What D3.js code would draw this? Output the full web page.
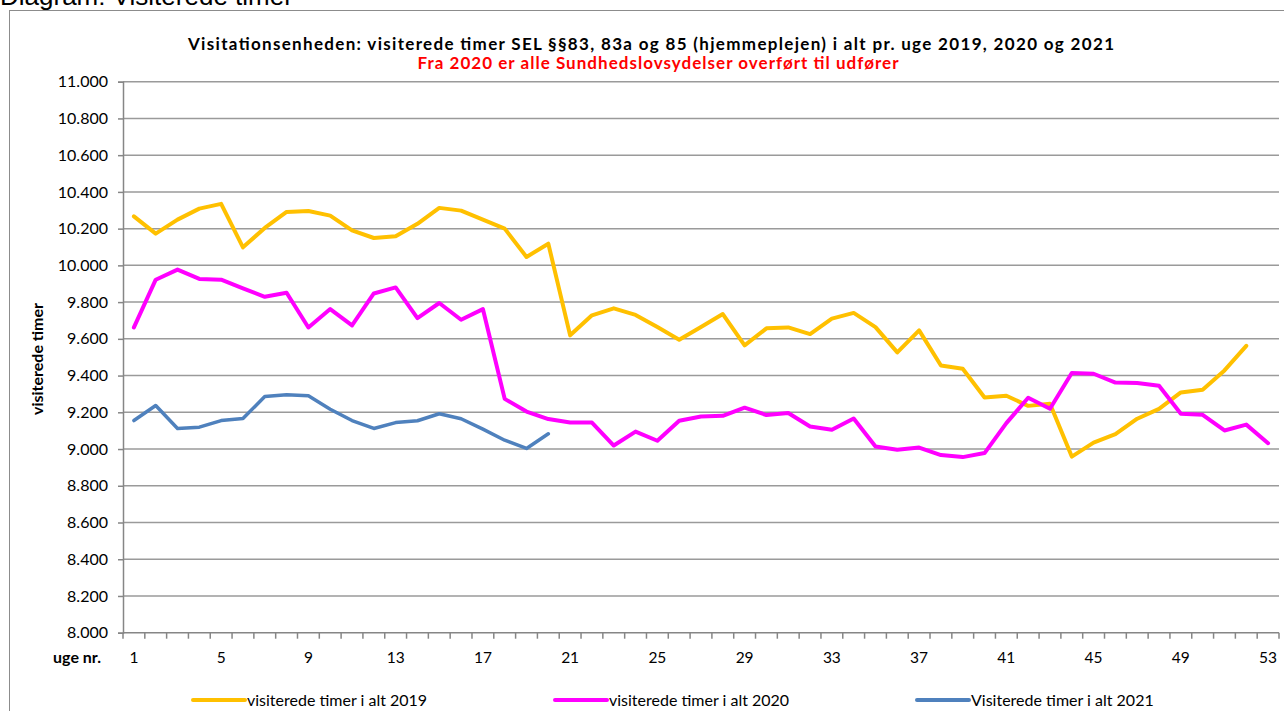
<!DOCTYPE html>
<html>
<head>
<meta charset="utf-8">
<script src="https://cdn.jsdelivr.net/npm/d3@7"></script>
<style>
  body { margin: 0; background: #fff; }
  svg { display: block; }
</style>
</head>
<body>
<div id="chart"></div>
<script>
const weeks = [1,2,3,4,5,6,7,8,9,10,11,12,13,14,15,16,17,18,19,20,21,22,23,24,25,26,27,
  28,29,30,31,32,33,34,35,36,37,38,39,40,41,42,43,44,45,46,47,48,49,50,51,52,53];
const weekLabels = [1,5,9,13,17,21,25,29,33,37,41,45,49,53];

const values2019 = [10267,10173,10249,10309,10335,10098,10204,10291,10296,10271,
  10191,10149,10158,10226,10313,10298,10249,10200,10046,10118,
  9619,9728,9766,9730,9664,9595,9664,9735,9564,9657,
  9662,9626,9710,9741,9664,9526,9646,9455,9437,9281,
  9290,9235,9246,8959,9035,9081,9165,9219,9308,9323,9428,9562];
const values2020 = [9662,9922,9977,9926,9922,9875,9829,9851,9662,9762,
  9673,9847,9880,9713,9795,9704,9762,9273,9204,9163,
  9144,9144,9019,9095,9045,9154,9177,9181,9225,9185,
  9196,9123,9105,9166,9014,8996,9008,8967,8956,8978,
  9141,9279,9219,9414,9410,9362,9359,9344,9192,9186,9101,9133,9032];
const values2021 = [9155,9237,9112,9119,9155,9166,9286,9295,9290,9217,
  9155,9112,9144,9154,9192,9165,9108,9048,9003,9083];

const yTicks = [8000,8200,8400,8600,8800,9000,9200,9400,9600,9800,10000,10200,10400,10600,10800,11000];

const seriesNames = ['visiterede timer i alt 2019', 'visiterede timer i alt 2020', 'Visiterede timer i alt 2021'];
const seriesColors = ['#FFC000', '#FF00FF', '#4F81BD'];

const width = 1284, height = 711;
const plot = { left: 123, right: 1279, top: 81.7, bottom: 632.7 };

const svg = d3.select('#chart').append('svg')
  .attr('width', width)
  .attr('height', height);

// outer frame (partly cut off)
svg.append('rect')
  .attr('x', 9.5).attr('y', 10.5)
  .attr('width', 1400).attr('height', 800)
  .attr('fill', 'none')
  .attr('stroke', '#8c8c8c')
  .attr('stroke-width', 1);

svg.append('text')
  .attr('x', 0).attr('y', 5)
  .attr('font-family', 'Liberation Sans, Arial, sans-serif')
  .attr('font-size', 26)
  .attr('fill', '#000')
  .text('Diagram: Visiterede timer');

const x = d3.scaleBand().domain(weeks).range([plot.left, plot.right]).padding(0);
const y = d3.scaleLinear().domain([8000, 11000]).range([plot.bottom, plot.top]);
const cx = w => x(w) + x.bandwidth() / 2;

const locale = d3.formatLocale({ decimal: ',', thousands: '.', grouping: [3], currency: ['', ''] });
const fmt = locale.format(',.0f');

// gridlines
svg.append('g')
  .selectAll('line')
  .data(yTicks.filter(d => d > 8000))
  .join('line')
  .attr('x1', plot.left).attr('x2', plot.right)
  .attr('y1', d => y(d)).attr('y2', d => y(d))
  .attr('stroke', '#9a9a9a')
  .attr('stroke-width', 1.5);

// y axis
const yAxis = svg.append('g')
  .attr('transform', `translate(${plot.left},0)`)
  .call(d3.axisLeft(y).tickValues(yTicks).tickFormat(fmt).tickSize(5).tickPadding(10));
yAxis.select('.domain').attr('stroke', '#868686').attr('stroke-width', 1.5);
yAxis.selectAll('.tick line').attr('stroke', '#868686').attr('stroke-width', 1.5);
yAxis.selectAll('.tick text')
  .attr('font-family', 'Lato, sans-serif')
  .attr('font-size', 16)
  .attr('fill', '#000');

// x axis: ticks between categories
const xAxis = svg.append('g').attr('transform', `translate(0,${plot.bottom})`);
xAxis.append('line')
  .attr('x1', plot.left).attr('x2', plot.right)
  .attr('stroke', '#868686').attr('stroke-width', 1.5);
xAxis.selectAll('line.tk')
  .data(weeks.concat([null]))
  .join('line')
  .attr('class', 'tk')
  .attr('x1', d => d === null ? plot.right : x(d))
  .attr('x2', d => d === null ? plot.right : x(d))
  .attr('y1', 0).attr('y2', 6)
  .attr('stroke', '#868686').attr('stroke-width', 1.5);
xAxis.selectAll('text')
  .data(weekLabels)
  .join('text')
  .attr('x', d => cx(d))
  .attr('y', 30)
  .attr('text-anchor', 'middle')
  .attr('font-family', 'Lato, sans-serif')
  .attr('font-size', 15.5)
  .attr('fill', '#000')
  .text(d => d);

svg.append('text')
  .attr('x', 101).attr('y', plot.bottom + 30)
  .attr('text-anchor', 'end')
  .attr('font-family', 'Lato, sans-serif')
  .attr('font-weight', 'bold')
  .attr('font-size', 16)
  .text('uge nr.');

svg.append('text')
  .attr('transform', 'translate(43,359) rotate(-90)')
  .attr('text-anchor', 'middle')
  .attr('font-family', 'Lato, sans-serif')
  .attr('font-weight', 'bold')
  .attr('font-size', 16)
  .text('visiterede timer');

// titles
svg.append('text')
  .attr('x', 651).attr('y', 50)
  .attr('text-anchor', 'middle')
  .attr('font-family', 'Lato, sans-serif')
  .attr('font-weight', 'bold')
  .attr('font-size', 17)
  .attr('textLength', 926)
  .text('Visitationsenheden: visiterede timer SEL §§83, 83a og 85 (hjemmeplejen) i alt pr. uge 2019, 2020 og 2021');

svg.append('text')
  .attr('x', 658).attr('y', 69)
  .attr('text-anchor', 'middle')
  .attr('font-family', 'Lato, sans-serif')
  .attr('font-weight', 'bold')
  .attr('font-size', 17)
  .attr('fill', '#FF0000')
  .attr('textLength', 481)
  .text('Fra 2020 er alle Sundhedslovsydelser overført til udfører');

// lines
const line = d3.line()
  .x(d => cx(d.week))
  .y(d => y(d.value));

[values2019, values2020, values2021].forEach((vals, i) => {
  const data = vals.map((v, j) => ({ week: weeks[j], value: v }));
  svg.append('path')
    .datum(data)
    .attr('fill', 'none')
    .attr('stroke', seriesColors[i])
    .attr('stroke-width', i === 2 ? 3.5 : 4)
    .attr('stroke-linejoin', 'round')
    .attr('stroke-linecap', 'round')
    .attr('d', line);
});

// legend
const legendX = [193, 555, 917];
const legend = svg.append('g').attr('transform', 'translate(0,700)');
seriesNames.forEach((name, i) => {
  legend.append('line')
    .attr('x1', legendX[i]).attr('x2', legendX[i] + 52)
    .attr('stroke', seriesColors[i])
    .attr('stroke-width', 4)
    .attr('stroke-linecap', 'round');
  legend.append('text')
    .attr('x', legendX[i] + 54)
    .attr('y', 5.5)
    .attr('font-family', 'Lato, sans-serif')
    .attr('font-size', 16)
    .text(name);
});
</script>
</body>
</html>
